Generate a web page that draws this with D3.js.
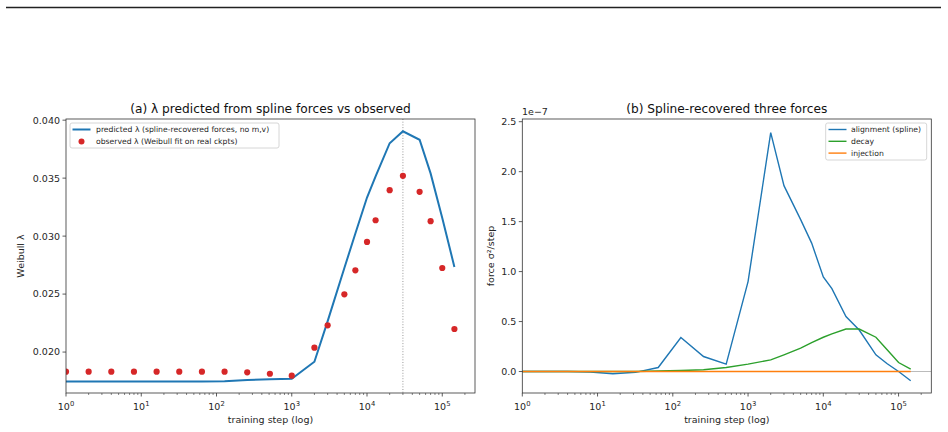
<!DOCTYPE html>
<html>
<head>
<meta charset="utf-8">
<script src="https://cdn.jsdelivr.net/npm/d3@7"></script>
<style>
  body { margin: 0; background: #fff; }
  svg { display: block; font-family: "DejaVu Sans", sans-serif; }
  .tick-label { font-size: 9.5px; fill: #262626; }
</style>
</head>
<body>
<svg id="chart" width="948" height="432"></svg>
<script>
// training steps where both panels were evaluated
var steps = [1, 2, 4, 8, 16, 32, 64, 128, 256, 512, 1000, 2000, 3000, 5000, 7000,
             10000, 13000, 20000, 30000, 50000, 70000, 100000, 145000];

// panel (a)
var predicted = [0.01747, 0.01747, 0.01747, 0.01747, 0.01747, 0.01747, 0.01747, 0.01748,
                 0.0176, 0.01765, 0.0177, 0.01917, 0.02267, 0.02725, 0.03022,
                 0.03333, 0.03515, 0.03801, 0.03904, 0.03831, 0.03541, 0.03156, 0.02734];
var observed = [0.01831, 0.01831, 0.01831, 0.01831, 0.01831, 0.01831, 0.01831, 0.01831,
                0.01825, 0.01813, 0.01796, 0.02038, 0.02231, 0.02498, 0.02705,
                0.02950, 0.03137, 0.03396, 0.03520, 0.03382, 0.03129, 0.02725, 0.02199];
var peak_step = 30000;
var yticks_a = [0.020, 0.025, 0.030, 0.035, 0.040];

// panel (b), in units of 1e-7
var alignment = [0, 0, 0, -0.005, -0.022, -0.008, 0.04, 0.34, 0.15, 0.074, 0.90, 2.39, 1.86,
                 1.52, 1.285, 0.947, 0.83, 0.55, 0.415, 0.167, 0.08, 0.0, -0.093];
var decay = [0, 0, 0, 0, 0, 0, 0.005, 0.01, 0.017, 0.04, 0.074, 0.117, 0.167,
             0.233, 0.29, 0.343, 0.376, 0.425, 0.425, 0.343, 0.22, 0.09, 0.024];
var injection = [0, 0, 0, 0, 0, 0, 0, 0, 0, 0, 0, 0, 0, 0, 0, 0, 0, 0, 0, 0, 0, 0, 0];
var yticks_b = [0.0, 0.5, 1.0, 1.5, 2.0, 2.5];
var xticks = [1, 10, 100, 1000, 10000, 100000];

var svg = d3.select("#chart");

// the thin rule across the top
svg.append("line").attr("x1", 6).attr("x2", 941).attr("y1", 7.5).attr("y2", 7.5)
   .attr("stroke", "#222").attr("stroke-width", 1.3);

var plot_top = 119, plot_bottom = 393;

function drawAxes(g, x, y, yticks, yfmt, title, ylabel, ylabelX) {
  var x0 = x.range()[0], x1 = x.range()[1];
  // minor log ticks
  var minor = [];
  for (var e = 0; e < 6; e++) {
    for (var m = 2; m <= 9; m++) {
      var v = m * Math.pow(10, e);
      if (v < x.domain()[1]) minor.push(v);
    }
  }
  g.selectAll(".minor").data(minor).enter().append("line")
    .attr("x1", function(d){ return x(d); }).attr("x2", function(d){ return x(d); })
    .attr("y1", plot_bottom).attr("y2", plot_bottom + 2)
    .attr("stroke", "#333").attr("stroke-width", 0.6);
  g.selectAll(".major").data(xticks).enter().append("line")
    .attr("x1", function(d){ return x(d); }).attr("x2", function(d){ return x(d); })
    .attr("y1", plot_bottom).attr("y2", plot_bottom + 3.5)
    .attr("stroke", "#333").attr("stroke-width", 0.8);
  var xl = g.selectAll(".xl").data(xticks).enter().append("text")
    .attr("class", "tick-label")
    .attr("x", function(d){ return x(d); }).attr("y", 410)
    .attr("text-anchor", "middle");
  xl.append("tspan").text("10");
  xl.append("tspan").attr("dy", -4).attr("font-size", "6.8px")
    .text(function(d){ return Math.round(Math.log10(d)); });

  // y ticks
  g.selectAll(".yt").data(yticks).enter().append("line")
    .attr("x1", x0 - 3.5).attr("x2", x0)
    .attr("y1", function(d){ return y(d); }).attr("y2", function(d){ return y(d); })
    .attr("stroke", "#333").attr("stroke-width", 0.8);
  g.selectAll(".yl").data(yticks).enter().append("text")
    .attr("class", "tick-label")
    .attr("x", x0 - 6).attr("y", function(d){ return y(d) + 3.4; })
    .attr("text-anchor", "end")
    .text(yfmt);

  // frame
  g.append("rect").attr("x", x0).attr("y", plot_top)
    .attr("width", x1 - x0).attr("height", plot_bottom - plot_top)
    .attr("fill", "none").attr("stroke", "#333").attr("stroke-width", 0.8);

  g.append("text").attr("x", (x0 + x1) / 2).attr("y", 113)
    .attr("text-anchor", "middle").attr("font-size", "12.2px").attr("fill", "#111")
    .text(title);
  g.append("text").attr("x", (x0 + x1) / 2).attr("y", 423)
    .attr("text-anchor", "middle").attr("font-size", "9.5px").attr("fill", "#262626")
    .text("training step (log)");
  g.append("text")
    .attr("transform", "translate(" + ylabelX + "," + ((plot_top + plot_bottom) / 2) + ") rotate(-90)")
    .attr("text-anchor", "middle").attr("font-size", "9.5px").attr("fill", "#262626")
    .text(ylabel);
}

// ---------- panel (a) ----------
var xa = d3.scaleLog().domain([1, Math.pow(10, 5.435)]).range([66, 475]);
var ya = d3.scaleLinear().domain([0.01647, 0.0401]).range([plot_bottom, plot_top]);
var ga = svg.append("g");

ga.append("clipPath").attr("id", "clip-a").append("rect")
  .attr("x", 66).attr("y", plot_top).attr("width", 409).attr("height", plot_bottom - plot_top);

var pa = ga.append("g").attr("clip-path", "url(#clip-a)");
pa.append("line").attr("x1", xa(peak_step)).attr("x2", xa(peak_step))
  .attr("y1", plot_top).attr("y2", plot_bottom)
  .attr("stroke", "#999").attr("stroke-width", 1).attr("stroke-dasharray", "1,1.7");
pa.append("path").datum(steps)
  .attr("d", d3.line().x(function(d){ return xa(d); })
                      .y(function(d, i){ return ya(predicted[i]); }))
  .attr("fill", "none").attr("stroke", "#1f77b4").attr("stroke-width", 2);
pa.selectAll("circle").data(steps).enter().append("circle")
  .attr("cx", function(d){ return xa(d); })
  .attr("cy", function(d, i){ return ya(observed[i]); })
  .attr("r", 3.1).attr("fill", "#d62728");

drawAxes(ga, xa, ya, yticks_a, d3.format(".3f"),
         "(a) \u03bb predicted from spline forces vs observed", "Weibull \u03bb", 23.5);

// legend (a)
var la = ga.append("g");
la.append("rect").attr("x", 70).attr("y", 123).attr("width", 209).attr("height", 25)
  .attr("rx", 2).attr("fill", "#fff").attr("fill-opacity", 0.8)
  .attr("stroke", "#ccc").attr("stroke-width", 0.8);
la.append("line").attr("x1", 72.5).attr("x2", 90.5).attr("y1", 129.5).attr("y2", 129.5)
  .attr("stroke", "#1f77b4").attr("stroke-width", 2);
la.append("circle").attr("cx", 81.5).attr("cy", 141.5).attr("r", 3).attr("fill", "#d62728");
la.selectAll("text")
  .data(["predicted \u03bb (spline-recovered forces, no m,v)", "observed \u03bb (Weibull fit on real ckpts)"])
  .enter().append("text")
  .attr("x", 96).attr("y", function(d, i){ return 132.2 + i * 12; })
  .attr("font-size", "7.7px").attr("fill", "#262626")
  .text(function(d){ return d; });

// ---------- panel (b) ----------
var xb = d3.scaleLog().domain([1, Math.pow(10, 5.435)]).range([522.3, 931.3]);
var yb = d3.scaleLinear().domain([-0.215, 2.527]).range([plot_bottom, plot_top]);
var gb = svg.append("g");

gb.append("clipPath").attr("id", "clip-b").append("rect")
  .attr("x", 522.3).attr("y", plot_top).attr("width", 409).attr("height", plot_bottom - plot_top);
var pb = gb.append("g").attr("clip-path", "url(#clip-b)");

pb.append("line").attr("x1", 522.3).attr("x2", 931.3)
  .attr("y1", yb(0)).attr("y2", yb(0))
  .attr("stroke", "#bbb").attr("stroke-width", 1.2);

var series_b = [
  { name: "alignment (spline)", values: alignment, color: "#1f77b4" },
  { name: "decay", values: decay, color: "#2ca02c" },
  { name: "injection", values: injection, color: "#ff7f0e" }
];
series_b.forEach(function(s){
  pb.append("path").datum(steps)
    .attr("d", d3.line().x(function(d){ return xb(d); })
                        .y(function(d, i){ return yb(s.values[i]); }))
    .attr("fill", "none").attr("stroke", s.color).attr("stroke-width", 1.4);
});

drawAxes(gb, xb, yb, yticks_b, d3.format(".1f"),
         "(b) Spline-recovered three forces", "force \u03c3\u00b2/step", 494);

gb.append("text").attr("x", 522).attr("y", 115)
  .attr("font-size", "9.5px").attr("fill", "#262626").text("1e\u22127");

// legend (b)
var lb = gb.append("g");
lb.append("rect").attr("x", 825.7).attr("y", 123).attr("width", 101).attr("height", 37)
  .attr("rx", 2).attr("fill", "#fff").attr("fill-opacity", 0.8)
  .attr("stroke", "#ccc").attr("stroke-width", 0.8);
series_b.forEach(function(s, i){
  var yy = 129.5 + i * 11.8;
  lb.append("line").attr("x1", 828.5).attr("x2", 846.5).attr("y1", yy).attr("y2", yy)
    .attr("stroke", s.color).attr("stroke-width", 1.4);
  lb.append("text").attr("x", 851).attr("y", yy + 2.7)
    .attr("font-size", "7.7px").attr("fill", "#262626").text(s.name);
});
</script>
</body>
</html>
